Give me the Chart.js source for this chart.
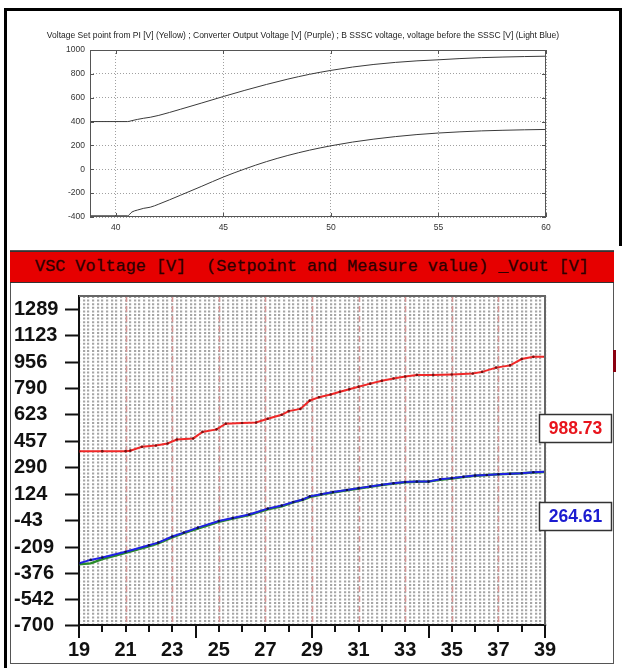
<!DOCTYPE html>
<html lang="en">
<head>
  <meta charset="UTF-8" />
  <title>VSC Voltage</title>
  <script src="https://cdn.jsdelivr.net/npm/chart.js"></script>
  <style>
    body {
      margin: 0;
      background: #fff;
      font-family: 'Liberation Sans', Arial, sans-serif;
    }

    .page {
      position: relative;
      width: 623px;
      height: 668px;
      overflow: hidden;
      background: #fff;
    }

    .page canvas, .page div {
      position: absolute;
    }

    .frame-top { left: 4px; top: 8px; width: 618px; height: 3px; background: #000; }
    .frame-left { left: 4px; top: 8px; width: 3px; height: 660px; background: #000; }
    .frame-right { left: 619px; top: 8px; width: 3px; height: 238px; background: #000; }

    .panel {
      left: 10px;
      top: 250px;
      width: 604px;
      height: 414px;
      box-sizing: border-box;
      border: 1px solid #555;
    }

    .banner {
      left: 10px;
      top: 251px;
      width: 604px;
      height: 32px;
      box-sizing: border-box;
      background: #e60000;
      border-top: 1px solid #333;
      border-bottom: 1px solid #333;
      color: #2e0000;
      font-family: 'Liberation Mono', 'DejaVu Sans Mono', monospace;
      font-size: 16.8px;
      line-height: 30px;
      text-align: center;
      white-space: pre;
      -webkit-text-stroke: 0.3px #2e0000;
    }

    .edge-mark { left: 613px; top: 350px; width: 3px; height: 22px; background: #8a0010; }

    #simChart { left: 0; top: 0; }
    #vscChart { left: 10px; top: 281px; }
  </style>
</head>
<body>
  <div class="page">
    <canvas id="simChart" width="623" height="248"></canvas>
    <div class="panel"></div>
    <canvas id="vscChart" width="603" height="387"></canvas>
    <div class="banner">VSC Voltage [V]  (Setpoint and Measure value) _Vout [V]</div>
    <div class="frame-top"></div>
    <div class="frame-left"></div>
    <div class="frame-right"></div>
    <div class="edge-mark"></div>
  </div>

  <script>
    // --- simulation traces (upper plot) ---
    const simTitle = 'Voltage Set point from PI [V] (Yellow) ; Converter Output Voltage [V] (Purple) ; B SSSC voltage, voltage before the SSSC [V] (Light Blue)';
    const simTime = [38.8, 40.55, 40.75, 41, 41.3, 41.6, 42, 43, 44, 45, 46, 47, 48, 49, 50, 51, 52, 53, 54, 55, 56, 57, 58, 59, 60];
    const simConverter = [400, 400, 408, 418, 428, 436, 452, 503, 556, 610, 662, 711, 756, 796, 829, 857, 879, 896, 909, 918, 928, 936, 941, 945, 948];
    const simSssc = [-390, -390, -358, -342, -327, -318, -292, -218, -142, -65, 3, 64, 116, 160, 197, 228, 253, 274, 291, 304, 314, 322, 327, 331, 334];
    const simXTicks = [40, 45, 50, 55, 60];

    // --- VSC monitor (lower plot) ---
    const spTime = [19, 20, 21, 21.2, 21.7, 22.3, 22.8, 23.2, 23.9, 24.3, 24.9, 25.3, 26.0, 26.6, 27.1, 27.7, 28.0, 28.5, 28.9, 29.3, 29.8, 30.2, 30.6, 31.0, 31.5, 32.0, 32.5, 33.0, 33.5, 34.2, 35.0, 35.9, 36.3, 36.9, 37.5, 38.0, 38.5, 39];
    const spValue = [395, 395, 395, 398, 422, 430, 443, 468, 475, 516, 532, 568, 572, 575, 599, 624, 647, 661, 713, 734, 752, 769, 785, 801, 820, 838, 852, 865, 875, 875, 878, 884, 894, 921, 935, 975, 988.73, 988.73];
    const measTime = [19, 19.5, 20, 21, 22, 22.4, 23, 23.5, 24.1, 25, 25.6, 26.3, 27.1, 27.7, 28.2, 28.6, 28.9, 29.4, 29.9, 30.5, 31, 31.5, 32, 32.5, 33, 33.5, 34, 34.5, 35, 35.5, 36, 36.5, 37, 37.5, 38, 38.5, 39];
    const measValue = [-312, -290, -275, -239, -198, -181, -143, -118, -87, -45, -26, -4, 33, 52, 75, 90, 110, 124, 137, 150, 162, 172, 183, 192, 200, 203, 203, 218, 225, 233, 241, 245, 249, 252, 256, 262, 264.61];
    const voutValue = [-318, -312, -285, -246, -204, -185, -148, -121, -92, -50, -30, -8, 29, 48, 72, 88, 106, 122, 135, 148, 160, 171, 181, 191, 199, 202, 204, 214, 223, 232, 240, 245, 250, 252, 255, 261, 263];
    const vscYLabels = [-700, -542, -376, -209, -43, 124, 290, 457, 623, 790, 956, 1123, 1289];
    const vscYMax = 1372;

    const sans = "'Liberation Sans', Arial, sans-serif";
    const toPoints = (xs, ys) => xs.map((x, i) => ({ x: x, y: ys[i] }));

    // frame, inward ticks and heading for the upper plot
    const simFrame = {
      id: 'simFrame',
      afterDraw(chart) {
        const { ctx, chartArea: a, scales: { x, y } } = chart;
        ctx.save();
        ctx.strokeStyle = '#555';
        ctx.lineWidth = 1;
        ctx.strokeRect(a.left + 0.5, a.top + 0.5, a.width - 1, a.height - 1);
        ctx.beginPath();
        x.ticks.forEach(t => {
          const px = Math.round(x.getPixelForValue(t.value)) + 0.5;
          ctx.moveTo(px, a.top); ctx.lineTo(px, a.top + 4);
          ctx.moveTo(px, a.bottom); ctx.lineTo(px, a.bottom - 4);
        });
        y.ticks.forEach(t => {
          const py = Math.round(y.getPixelForValue(t.value)) + 0.5;
          ctx.moveTo(a.left, py); ctx.lineTo(a.left + 4, py);
          ctx.moveTo(a.right, py); ctx.lineTo(a.right - 4, py);
        });
        ctx.stroke();
        ctx.fillStyle = '#222';
        ctx.font = '8.5px ' + sans;
        ctx.textAlign = 'center';
        ctx.textBaseline = 'middle';
        ctx.fillText(simTitle, 303, 36);
        ctx.restore();
      }
    };

    new Chart(document.getElementById('simChart'), {
      type: 'line',
      data: {
        datasets: [
          { data: toPoints(simTime, simConverter), borderColor: '#3a3a3a', borderWidth: 1, pointRadius: 0, cubicInterpolationMode: 'monotone' },
          { data: toPoints(simTime, simSssc), borderColor: '#3a3a3a', borderWidth: 1, pointRadius: 0, cubicInterpolationMode: 'monotone' }
        ]
      },
      options: {
        responsive: false,
        devicePixelRatio: 1,
        animation: false,
        layout: { padding: { top: 50, right: 77, left: 0, bottom: 0 } },
        plugins: { legend: { display: false }, tooltip: { enabled: false } },
        scales: {
          x: {
            type: 'linear',
            min: 38.8,
            max: 60,
            afterBuildTicks: s => { s.ticks = simXTicks.map(v => ({ value: v })); },
            afterFit: s => { s.height = 31; },
            grid: { color: '#a0a0a0', lineWidth: 1, drawTicks: false },
            border: { display: false, dash: [1, 2] },
            ticks: { color: '#333', font: { size: 8.5, family: sans }, padding: 6, maxRotation: 0, callback: v => String(v) }
          },
          y: {
            min: -400,
            max: 1000,
            afterFit: s => { s.width = 90; },
            grid: { color: '#a0a0a0', lineWidth: 1, drawTicks: false },
            border: { display: false, dash: [1, 2] },
            ticks: { stepSize: 200, color: '#333', font: { size: 8.5, family: sans }, padding: 5, callback: v => String(v) }
          }
        }
      },
      plugins: [simFrame]
    });

    // red second markers, x tick marks, frame and value readouts for the lower plot
    const vscDecor = {
      id: 'vscDecor',
      beforeDatasetsDraw(chart) {
        const { ctx, chartArea: a, scales: { x } } = chart;
        ctx.save();
        ctx.strokeStyle = '#d79595';
        ctx.lineWidth = 1.5;
        ctx.setLineDash([6, 4]);
        for (let t = 21; t < 39; t += 2) {
          const px = Math.round(x.getPixelForValue(t)) + 0.5;
          ctx.beginPath();
          ctx.moveTo(px, a.top);
          ctx.lineTo(px, a.bottom);
          ctx.stroke();
        }
        ctx.restore();
      },
      afterDraw(chart) {
        const { ctx, chartArea: a, scales: { x } } = chart;
        ctx.save();
        ctx.strokeStyle = '#666';
        ctx.lineWidth = 2;
        ctx.beginPath();
        ctx.moveTo(a.left, a.top); ctx.lineTo(a.right, a.top); ctx.lineTo(a.right, a.bottom);
        ctx.stroke();

        ctx.strokeStyle = '#111';
        ctx.beginPath();
        for (let t = 19; t <= 39; t++) {
          const px = Math.round(x.getPixelForValue(t));
          const len = (t - 19) % 5 === 0 ? 13 : 7;
          ctx.moveTo(px, a.bottom);
          ctx.lineTo(px, a.bottom + len);
        }
        ctx.stroke();

        const boxes = [
          { top: 133, text: spValue[spValue.length - 1].toFixed(2), color: '#e8141c' },
          { top: 221, text: measValue[measValue.length - 1].toFixed(2), color: '#1c1cd0' }
        ];
        ctx.font = 'bold 17.5px ' + sans;
        ctx.textAlign = 'center';
        ctx.textBaseline = 'middle';
        boxes.forEach(b => {
          ctx.fillStyle = '#fff';
          ctx.fillRect(529, b.top, 73, 29);
          ctx.strokeStyle = '#333';
          ctx.lineWidth = 1.5;
          ctx.strokeRect(529.5, b.top + 0.5, 72, 28);
          ctx.fillStyle = b.color;
          ctx.fillText(b.text, 565.5, b.top + 15);
        });
        ctx.restore();
      }
    };

    const yMinor = vscYLabels.slice(1).map((v, i) => (v + vscYLabels[i]) / 2);
    const yTickValues = vscYLabels.concat(yMinor, [vscYMax]).sort((p, q) => p - q);

    new Chart(document.getElementById('vscChart'), {
      type: 'line',
      data: {
        datasets: [
          { label: 'Setpoint', data: toPoints(spTime, spValue), borderColor: '#f02828', borderWidth: 2, pointRadius: 1.3, pointBorderWidth: 0, pointBackgroundColor: '#7a1010' },
          { label: 'Measure', data: toPoints(measTime, measValue), borderColor: '#2020e6', borderWidth: 2, pointRadius: 1.3, pointBorderWidth: 0, pointBackgroundColor: '#10104a' },
          { label: 'Vout', data: toPoints(measTime, voutValue), borderColor: '#2a8c2a', borderWidth: 2.5, pointRadius: 0 }
        ]
      },
      options: {
        responsive: false,
        devicePixelRatio: 1,
        animation: false,
        layout: { padding: { top: 12, right: 68, left: 4, bottom: 0 } },
        plugins: { legend: { display: false }, tooltip: { enabled: false } },
        scales: {
          x: {
            type: 'linear',
            min: 19,
            max: 39,
            afterFit: s => { s.height = 43; },
            grid: { color: '#a6a6a6', lineWidth: 2.2, drawTicks: false },
            border: { color: '#111', width: 2, dash: [2, 1.6] },
            ticks: {
              stepSize: 0.2,
              autoSkip: false,
              maxRotation: 0,
              padding: 13,
              color: '#111',
              font: { size: 20, weight: 'bold', family: sans },
              callback: v => {
                const r = Math.round(v);
                return Math.abs(v - r) < 1e-6 && r % 2 === 1 ? String(r) : '';
              }
            }
          },
          y: {
            min: -700,
            max: vscYMax,
            afterBuildTicks: s => { s.ticks = yTickValues.map(v => ({ value: v })); },
            afterFit: s => { s.width = 65; },
            grid: { drawOnChartArea: false, tickLength: 14, tickColor: '#111', tickWidth: 2 },
            border: { color: '#111', width: 2 },
            ticks: {
              crossAlign: 'far',
              color: '#111',
              font: { size: 20, weight: 'bold', family: sans },
              callback: v => (vscYLabels.includes(v) ? String(v) : '')
            }
          }
        }
      },
      plugins: [vscDecor]
    });
  </script>
</body>
</html>
